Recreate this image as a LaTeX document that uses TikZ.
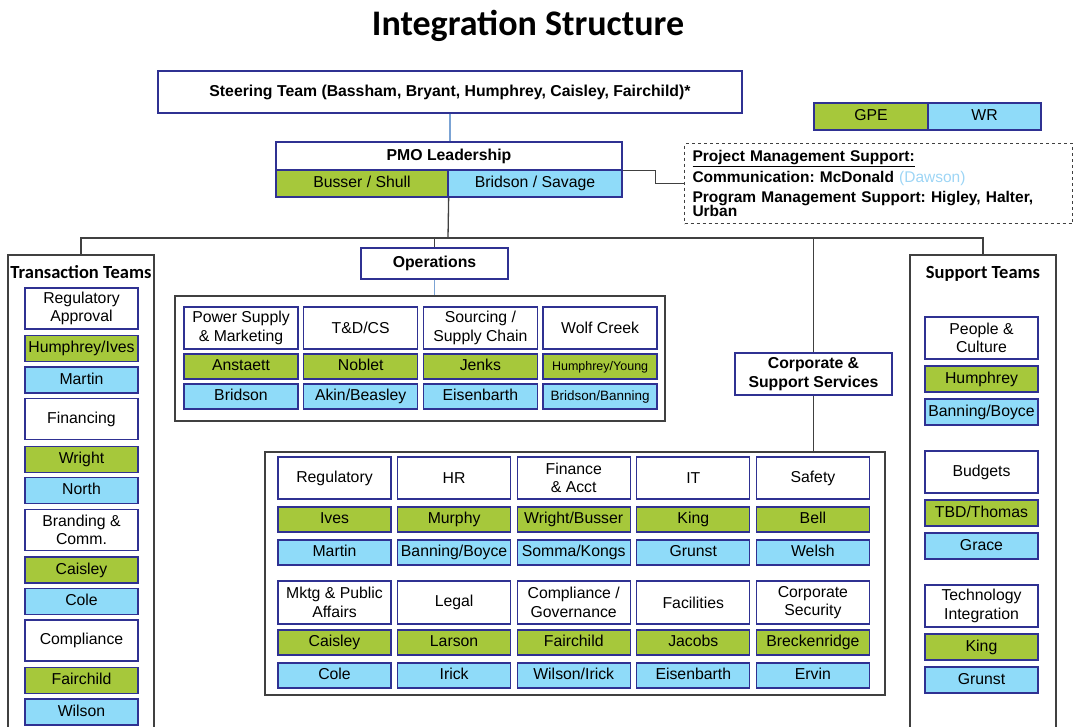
\documentclass[tikz,border=0pt]{standalone}
\usepackage{fontspec}
\setmainfont{Liberation Sans}
\newfontfamily\headfont{Carlito}
\usetikzlibrary{positioning}
\frenchspacing

\definecolor{gpegreen}{HTML}{A6C83B}
\definecolor{wrblue}{HTML}{8FDBF9}
\definecolor{boxline}{HTML}{2F3192}
\definecolor{framegray}{HTML}{404040}
\definecolor{linkblue}{HTML}{7BA3D4}
\definecolor{dawson}{HTML}{9DD5F5}

\tikzset{
	cell/.style={draw=boxline, line width=1.3pt, fill=white, inner sep=1pt, align=center, font=\fontsize{15.8}{18.5}\selectfont},
	boldcell/.style={cell, font=\fontsize{15.8}{18.5}\selectfont\bfseries},
	gpecell/.style={cell, fill=gpegreen, minimum height=26, text height=11.5pt, text depth=3.3pt},
	wrcell/.style={cell, fill=wrblue, minimum height=26, text height=11.5pt, text depth=3.3pt},
	teamframe/.style={draw=framegray, line width=1.3pt, fill=white, inner sep=0pt},
	teamtitle/.style={font=\headfont\fontsize{18.5}{20}\selectfont\bfseries},
	link/.style={draw=framegray, line width=1.3pt},
	bluelink/.style={draw=linkblue, line width=1.3pt},
	pmsbox/.style={draw=framegray, dashed, line width=1pt, align=left, font=\fontsize{15.5}{20.5}\selectfont\bfseries}
}

\begin{document}
\begin{tikzpicture}[x=1pt, y=-1pt]
	\useasboundingbox (0,0) rectangle (1074,726);

	\def\cw{113}
	\def\hh{42}

	\node[anchor=base, font=\headfont\fontsize{36}{40}\selectfont\bfseries] (title) at (528,35) {Integration Structure};

	\node[boldcell, minimum width=584, minimum height=42] (steer) at (450,92) {Steering Team (Bassham, Bryant, Humphrey, Caisley, Fairchild)*};

	\node[boldcell, minimum width=346, minimum height=28] (pmo) at (449,156) {PMO Leadership};
	\node[boldcell, gpecell, minimum width=172, minimum height=27] (pmog) at (362,183.5) {Busser / Shull};
	\node[boldcell, wrcell, minimum width=174, minimum height=27] (pmob) at (535,183.5) {Bridson / Savage};

	\node[boldcell, gpecell, minimum width=114, minimum height=27] (gpe) at (871,116.5) {GPE};
	\node[boldcell, wrcell, minimum width=113, minimum height=27] (wr) at (984.5,116.5) {WR};

	\node[pmsbox, anchor=north west, minimum width=388, minimum height=80, text width=372, inner xsep=8] (pms) at (684,143)
		{\underline{Project Management Support:}\\Communication: McDonald {\mdseries\color{dawson}(Dawson)}\\Program Management Support: Higley, Halter,\\[-7pt]Urban};

	\draw[bluelink] (steer.south) -- (steer.south |- pmo.north);
	\draw[link] (pmo.south east) -- ++(33,0) |- (pms.west);

	\coordinate (bus) at (448,238);

	% team columns
	\node[teamframe, minimum width=146, minimum height=490] (trans) at (81,500) {};
	\node[teamtitle, below=8pt of trans.north] (transt) {Transaction Teams};
	\node[teamframe, minimum width=146, minimum height=490] (supp) at (983,500) {};
	\node[teamtitle, below=8pt of supp.north] (suppt) {Support Teams};

	\draw[link] (pmog.south east) -- (bus);
	\draw[link] (trans.north) |- (bus) -| (supp.north);

	\foreach \hd/\gn/\bl [count=\i from 0] in {{Regulatory\\Approval}/{Humphrey/Ives}/Martin, Financing/Wright/North, {Branding \&\\Comm.}/Caisley/Cole, Compliance/Fairchild/Wilson} {
		\node[cell, minimum width=\cw, minimum height=41] (trh\i) at (81.5, {308.5+110.7*\i}) {\hd};
		\node[gpecell, minimum width=\cw] (trg\i) at (81.5, {348.5+110.7*\i}) {\gn};
		\node[wrcell, minimum width=\cw] (trb\i) at (81.5, {380+110.7*\i}) {\bl};
	}

	\foreach \hd/\gn/\bl [count=\i from 0] in {{People \&\\Culture}/Humphrey/{Banning/Boyce}, Budgets/{TBD/Thomas}/Grace, {Technology\\Integration}/King/Grunst} {
		\node[cell, minimum width=\cw, minimum height=\hh] (suh\i) at (981.5, {338+134*\i}) {\hd};
		\node[gpecell, minimum width=\cw] (sug\i) at (981.5, {379+134*\i}) {\gn};
		\node[wrcell, minimum width=\cw] (sub\i) at (981.5, {412+134*\i}) {\bl};
	}

	% operations
	\node[boldcell, minimum width=147, minimum height=31] (ops) at (434.5,263.5) {Operations};
	\node[teamframe, minimum width=490, minimum height=125] (opsframe) at (420,358.5) {};
	\draw[link] (ops.north |- bus) -- (ops.north);
	\draw[bluelink] (ops.south) -- (ops.south |- opsframe.north);

	\foreach \hd/\gn/\bl [count=\i] in {{Power Supply\\\& Marketing}/Anstaett/Bridson, {T\&D/CS}/Noblet/{Akin/Beasley}, {Sourcing /\\Supply Chain}/Jenks/Eisenbarth, {Wolf Creek}/{\fontsize{12.5}{14}\selectfont Humphrey/Young}/{\fontsize{13.5}{15}\selectfont Bridson/Banning}} {
		\node[cell, minimum width=114, minimum height=\hh] (oph\i) at ({121.3+119.7*\i}, 328) {\hd};
		\node[gpecell, minimum width=114, minimum height=25] (opg\i) at ({121.3+119.7*\i}, 366.5) {\gn};
		\node[wrcell, minimum width=114, minimum height=25] (opb\i) at ({121.3+119.7*\i}, 396.5) {\bl};
	}

	% corporate and support services
	\node[boldcell, minimum width=157, minimum height=42] (corp) at (813.5,374) {Corporate \&\\Support Services};
	\node[teamframe, minimum width=620, minimum height=243] (corpframe) at (575,573.5) {};
	\draw[link] (corp.north |- bus) -- (corp.north);
	\draw[link] (corp.south) -- (corp.south |- corpframe.north);

	\foreach \hd/\gn/\bl [count=\i] in {Regulatory/Ives/Martin, HR/Murphy/{Banning/Boyce}, {Finance\\\& Acct}/{Wright/Busser}/{Somma/Kongs}, IT/King/Grunst, Safety/Bell/Welsh} {
		\node[cell, minimum width=\cw, minimum height=\hh] (cah\i) at ({214.9+119.6*\i}, 478) {\hd};
		\node[gpecell, minimum width=\cw, minimum height=25] (cag\i) at ({214.9+119.6*\i}, 519.5) {\gn};
		\node[wrcell, minimum width=\cw, minimum height=25] (cab\i) at ({214.9+119.6*\i}, 552.5) {\bl};
	}
	\foreach \hd/\gn/\bl [count=\i] in {{Mktg \& Public\\Affairs}/Caisley/Cole, Legal/Larson/Irick, {Compliance /\\Governance}/Fairchild/{Wilson/Irick}, Facilities/Jacobs/Eisenbarth, {Corporate\\Security}/Breckenridge/Ervin} {
		\node[cell, minimum width=\cw, minimum height=43] (cbh\i) at ({214.9+119.6*\i}, 602.5) {\hd};
		\node[gpecell, minimum width=\cw, minimum height=25] (cbg\i) at ({214.9+119.6*\i}, 642.5) {\gn};
		\node[wrcell, minimum width=\cw, minimum height=25] (cbb\i) at ({214.9+119.6*\i}, 675.5) {\bl};
	}

\end{tikzpicture}
\end{document}
